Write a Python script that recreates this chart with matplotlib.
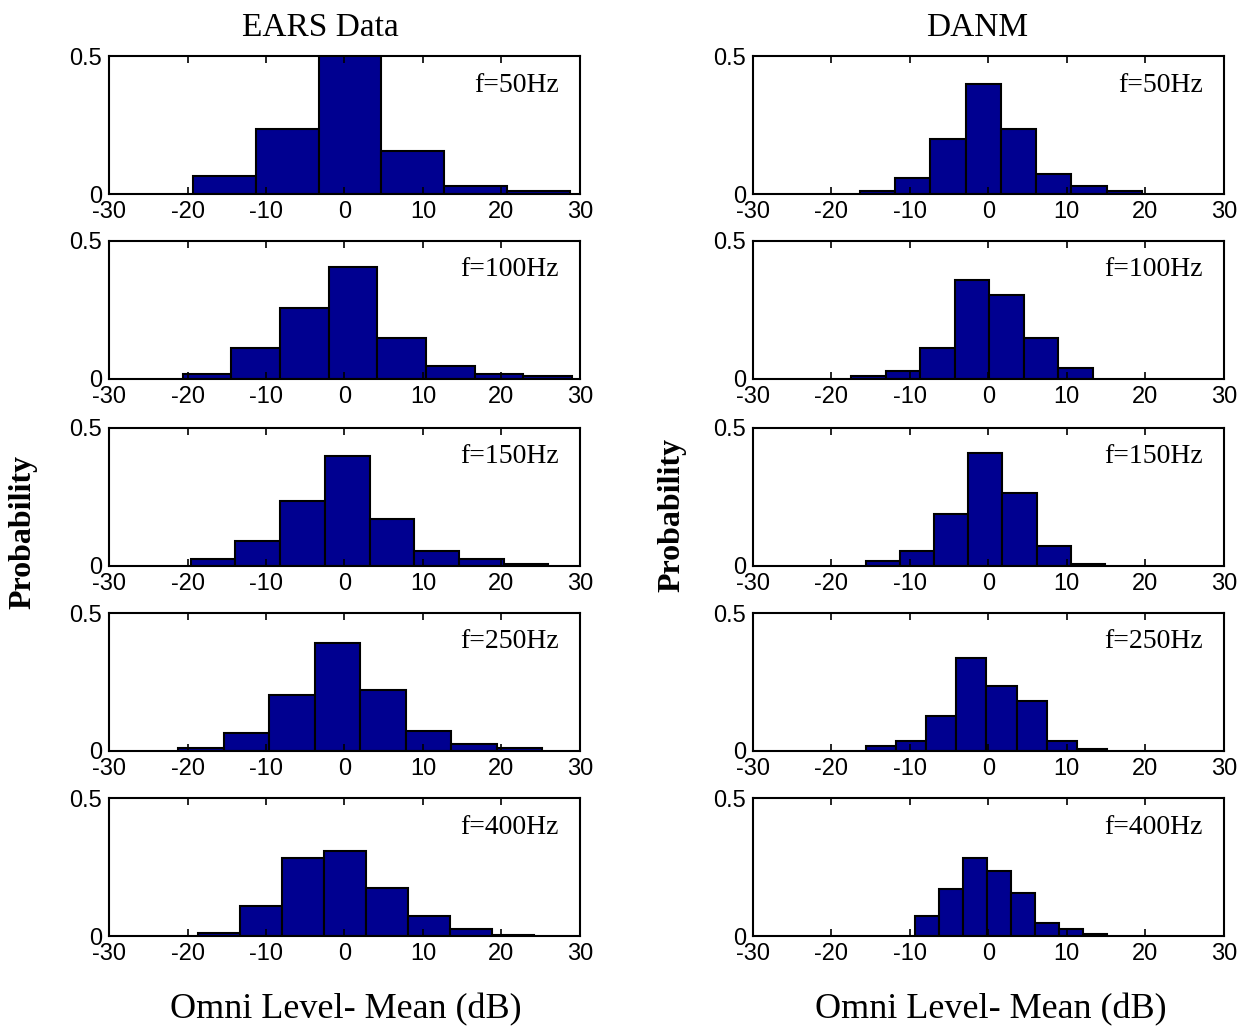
import numpy as np
import matplotlib
matplotlib.use("Agg")
import matplotlib.pyplot as plt

# Histograms of omni level minus mean
freqs = ["f=50Hz", "f=100Hz", "f=150Hz", "f=250Hz", "f=400Hz"]

# first bin edge (dB), bin width (dB), probability per bin
ears_start = [-19.3, -20.6, -19.6, -21.2, -18.6]
ears_width = [8.0, 6.2, 5.7, 5.8, 5.35]
ears_prob = [
    [0.065, 0.235, 0.52, 0.155, 0.030, 0.012],
    [0.018, 0.112, 0.257, 0.404, 0.148, 0.047, 0.017, 0.010],
    [0.027, 0.091, 0.236, 0.398, 0.171, 0.054, 0.027, 0.008],
    [0.010, 0.064, 0.202, 0.393, 0.220, 0.073, 0.027, 0.010],
    [0.010, 0.110, 0.282, 0.309, 0.173, 0.073, 0.027, 0.003],
]

danm_start = [-16.4, -17.5, -15.6, -15.6, -9.3]
danm_width = [4.5, 4.4, 4.35, 3.84, 3.05]
danm_prob = [
    [0.012, 0.057, 0.199, 0.399, 0.235, 0.072, 0.029, 0.011],
    [0.011, 0.028, 0.112, 0.358, 0.303, 0.148, 0.038],
    [0.018, 0.056, 0.190, 0.408, 0.263, 0.073, 0.008],
    [0.018, 0.038, 0.128, 0.337, 0.237, 0.181, 0.036, 0.009],
    [0.073, 0.172, 0.282, 0.237, 0.156, 0.047, 0.027, 0.008],
]

xticks = [-30, -20, -10, 0, 10, 20, 30]
bar_color = "#000090"
serif = ["Liberation Serif", "DejaVu Serif"]
sans = ["Liberation Sans", "DejaVu Sans"]

fig = plt.figure(figsize=(12.52, 10.36), dpi=100)

col_left = [0.0871, 0.6014]
col_w = 0.3760
row_bottom = [0.8127, 0.6345, 0.4537, 0.2751, 0.0965]
row_h = 0.1332


def draw(ax, start, width, prob, label):
    edges = start + width * np.arange(len(prob))
    ax.bar(edges, prob, width=width, align="edge", color=bar_color,
           edgecolor="black", linewidth=1.5)
    ax.set_xlim(-30, 30)
    ax.set_ylim(0, 0.5)
    ax.set_xticks(xticks)
    ax.set_xticklabels([str(t) for t in xticks], family=sans, fontsize=17)
    ax.set_yticks([0, 0.5])
    ax.set_yticklabels(["0", "0.5"], family=sans, fontsize=17)
    ax.tick_params(direction="in", top=True, right=True, length=5, width=1.2)
    ax.tick_params(axis="x", pad=5)
    ax.tick_params(axis="y", pad=5)
    for s in ax.spines.values():
        s.set_linewidth(1.5)
    ax.text(0.955, 0.79, label, transform=ax.transAxes, ha="right",
            va="center", family=serif, fontsize=20)


for i in range(5):
    axl = fig.add_axes([col_left[0], row_bottom[i], col_w, row_h])
    draw(axl, ears_start[i], ears_width[i], ears_prob[i], freqs[i])
    axr = fig.add_axes([col_left[1], row_bottom[i], col_w, row_h])
    draw(axr, danm_start[i], danm_width[i], danm_prob[i], freqs[i])

fig.text(320 / 1252, 1 - 28 / 1036, "EARS Data", ha="center", va="center",
         family=serif, fontsize=24)
fig.text(977 / 1252, 1 - 28 / 1036, "DANM", ha="center", va="center",
         family=serif, fontsize=24)
fig.text(346 / 1252, 1 - 1010 / 1036, "Omni Level- Mean (dB)", ha="center",
         va="center", family=serif, fontsize=26)
fig.text(991 / 1252, 1 - 1010 / 1036, "Omni Level- Mean (dB)", ha="center",
         va="center", family=serif, fontsize=26)
fig.text(23 / 1252, 1 - 532 / 1036, "Probability", rotation=90, ha="center",
         va="center", family=serif, fontsize=23, fontweight="bold")
fig.text(672 / 1252, 1 - 515 / 1036, "Probability", rotation=90, ha="center",
         va="center", family=serif, fontsize=23, fontweight="bold")

fig.savefig("out.png", dpi=100)
